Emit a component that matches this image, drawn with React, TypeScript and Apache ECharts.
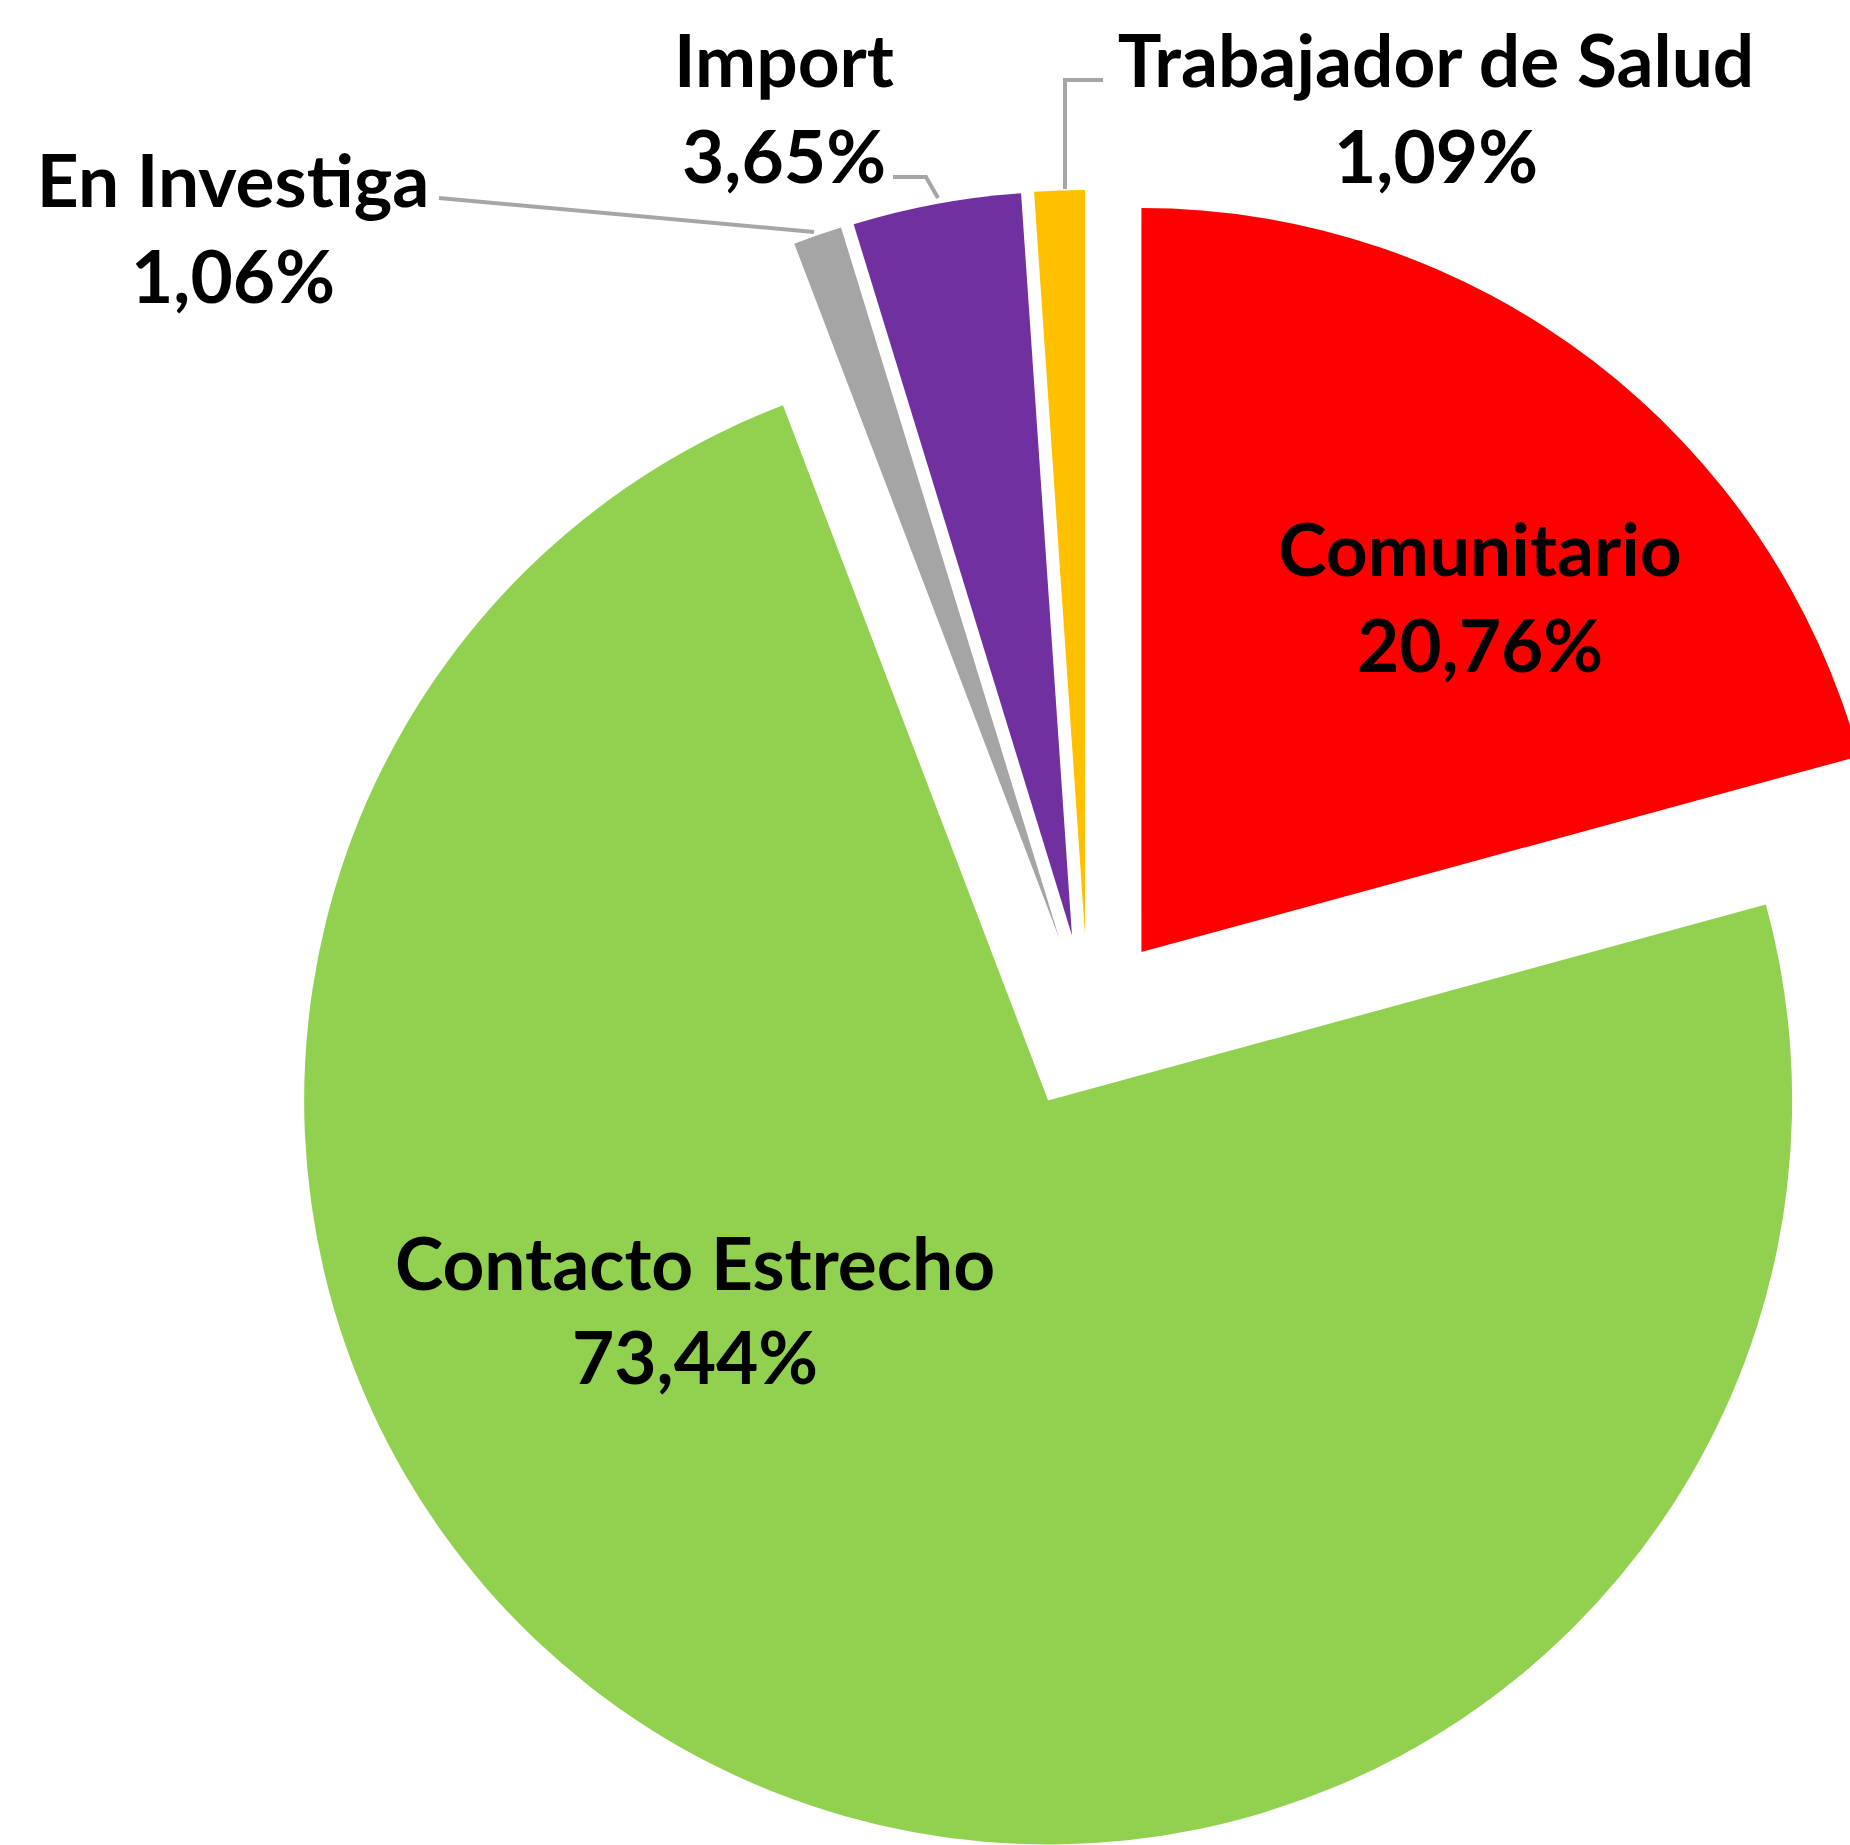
import React, { useEffect, useRef } from "react";
import * as echarts from "echarts";

// ---- data ----
const categories = ["Comunitario", "Contacto Estrecho", "En Investiga", "Import", "Trabajador de Salud"];
const values = [20.76, 73.44, 1.06, 3.65, 1.09];
const colors = ["#FF0000", "#92D050", "#A5A5A5", "#7030A0", "#FFC000"];

// ---- label layout (px): centre x, name line y, value line y ----
const labelX = [1480, 695, 233, 784, 1436];
const labelNameY = [548, 1262, 179, 59, 59];
const labelValueY = [644, 1356, 275, 155, 155];
const leaderLines: (number[][] | null)[] = [
  null,
  null,
  [[439, 198], [814, 232]],
  [[893, 177], [926, 177], [938, 198]],
  [[1103, 80], [1065, 80], [1065, 189]],
];

const fmt = (v: number) => v.toFixed(2).replace(".", ",") + "%";
const FONT = 'bold 73px Lato, "Open Sans", sans-serif';

export default function App() {
  const ref = useRef<HTMLDivElement>(null);
  useEffect(() => {
    if (!ref.current) return;
    const chart = echarts.init(ref.current, null, { renderer: "svg" });

    const graphics: any[] = [];
    categories.forEach((name, i) => {
      const line = leaderLines[i];
      if (line) {
        graphics.push({
          type: "polyline",
          z: 100,
          shape: { points: line },
          style: { stroke: "#A6A6A6", lineWidth: 4, fill: null },
          silent: true,
        });
      }
      graphics.push({
        type: "text",
        z: 100,
        x: labelX[i],
        y: labelNameY[i],
        style: { text: name, font: FONT, fill: "#000000", textAlign: "center", textVerticalAlign: "middle" },
        silent: true,
      });
      graphics.push({
        type: "text",
        z: 100,
        x: labelX[i],
        y: labelValueY[i],
        style: { text: fmt(values[i]), font: FONT, fill: "#000000", textAlign: "center", textVerticalAlign: "middle" },
        silent: true,
      });
    });

    chart.setOption({
      animation: false,
      backgroundColor: "#ffffff",
      graphic: { elements: graphics },
      series: [
        {
          type: "pie",
          z: 1,
          center: [1088, 1022],
          radius: [0, 744],
          startAngle: 90,
          clockwise: true,
          selectedMode: "multiple",
          selectedOffset: 88,
          avoidLabelOverlap: false,
          emphasis: { disabled: true },
          itemStyle: { borderWidth: 0 },
          label: { show: false },
          labelLine: { show: false },
          data: categories.map((name, i) => ({
            name,
            value: values[i],
            selected: true,
            itemStyle: { color: colors[i] },
          })),
        },
      ],
    });
    return () => chart.dispose();
  }, []);
  return (
    <div
      ref={ref}
      style={{ position: "fixed", left: 0, top: 0, width: 1850, height: 1845, background: "#fff" }}
    />
  );
}
